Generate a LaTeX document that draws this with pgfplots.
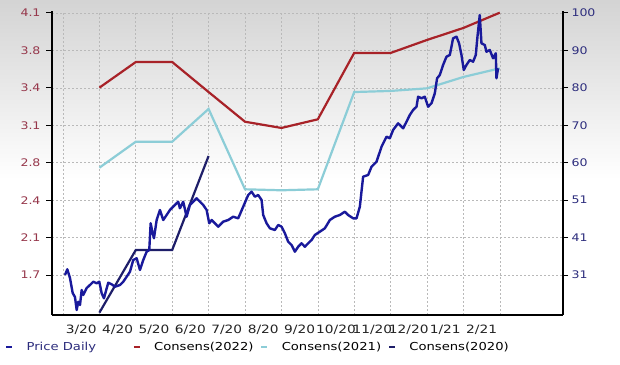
\documentclass[border=0pt]{standalone}
\usepackage{fontspec}
\setmainfont{DejaVu Sans}[FakeStretch=1.2]
\usepackage{pgfplots}
\pgfplotsset{compat=1.18}
\definecolor{redc}{RGB}{168,34,40}
\definecolor{cyanc}{RGB}{140,205,215}
\definecolor{pricec}{RGB}{25,25,155}
\definecolor{c20}{RGB}{30,30,105}
\definecolor{epslab}{RGB}{150,55,75}
\definecolor{pricelab}{RGB}{45,45,125}
\definecolor{xlab}{RGB}{35,35,35}
\definecolor{gridc}{RGB}{185,185,185}
\begin{document}
\begin{tikzpicture}
\fill[white] (-52bp,-50bp) rectangle (568bp,136bp);
\shade[top color=black!17, bottom color=white] (-52bp,135bp) rectangle (568bp,315bp);
\begin{axis}[
  at={(0,0)}, anchor=south west, scale only axis, width=511bp, height=304bp,
  xmin=-0.302, xmax=13.736, ymin=1.3336, ymax=4.1183,
  axis y line*=left, axis x line*=bottom,
  axis line style={-, line width=2.2bp, black},
  tick align=outside, major tick length=6bp,
  ytick={1.7,2.042857,2.385714,2.728571,3.071429,3.414286,3.757143,4.1},
  yticklabels={1.7,2.1,2.4,2.8,3.1,3.4,3.8,4.1},
  ytick style={black, line width=1bp},
  xtick={0.5,1.5,2.5,3.5,4.5,5.5,6.5,7.5,8.5,9.5,10.5,11.5},
  xticklabels={3/20,4/20,5/20,6/20,7/20,8/20,9/20,10/20,11/20,12/20,1/21,2/21},
  minor xtick={0,1,2,3,4,5,6,7,8,9,10,11,12},
  xtick style={draw=none},
  ymajorgrids, xminorgrids,
  major grid style={gridc, dash pattern=on 2bp off 2bp, line width=0.6bp},
  minor grid style={gridc, dash pattern=on 2bp off 2bp, line width=0.6bp},
  /pgf/number format/assume math mode=true,
  yticklabel style={color=epslab, font=\fontsize{10.5}{12}\selectfont, xshift=-2bp},
  xticklabel style={color=xlab, font=\fontsize{11.5}{13}\selectfont},
]
\addplot[redc, line width=2.2bp] coordinates {
(1,3.416) (2,3.651) (3,3.651) (4,3.376) (5,3.104) (6,3.047) (7,3.126)
(8,3.734) (9,3.734) (10,3.853) (11,3.963) (12,4.103)};
\addplot[cyanc, line width=2.2bp] coordinates {
(1,2.683) (2,2.921) (3,2.921) (4,3.221) (5,2.485) (6,2.476) (7,2.485)
(8,3.376) (9,3.386) (10,3.410) (11,3.514) (12,3.593)};
\addplot[c20, line width=2.2bp] coordinates {
(1,1.355) (2,1.929) (3,1.929) (4,2.790)};
\end{axis}
\begin{axis}[
  at={(0,0)}, anchor=south west, scale only axis, width=511bp, height=304bp,
  xmin=-0.302, xmax=13.736, ymin=20.466, ymax=100.527,
  axis y line*=right, axis x line=none,
  axis line style={-, line width=2.2bp, black},
  tick align=outside, major tick length=5bp, minor tick length=4bp,
  ytick={31,40.857,50.714,60.571,70.429,80.286,90.143,100},
  yticklabels={31,41,51,60,70,80,90,100},
  minor y tick num=3,
  ytick style={black, line width=1bp},
  /pgf/number format/assume math mode=true,
  yticklabel style={color=pricelab, font=\fontsize{10.5}{12}\selectfont},
  legend columns=4,
  legend image code/.code={\draw[#1, line width=2.6bp] (0bp,0bp) -- (6bp,0bp);},
  legend style={at={(axis description cs:-0.09198,-0.10526)}, anchor=west,
    draw=none, fill=none, inner sep=0pt, outer sep=0pt,
    font=\fontsize{11}{13}\selectfont,
    /tikz/every odd column/.append style={column sep=11bp},
    /tikz/every even column/.append style={column sep=3bp}},
]
\addplot[pricec, line width=2.4bp, line join=round] coordinates {
(0.055,31.00) (0.118,32.50) (0.192,30.21) (0.266,26.26) (0.329,25.21) (0.376,21.78)
(0.420,23.97) (0.467,23.10) (0.513,27.05) (0.557,25.73) (0.651,27.58) (0.741,28.37)
(0.832,29.24) (0.925,28.81) (0.997,29.24) (1.063,26.18) (1.126,24.86) (1.200,27.50)
(1.244,28.97) (1.337,28.55) (1.428,27.92) (1.565,28.37) (1.656,29.24) (1.749,30.55)
(1.840,31.87) (1.930,34.95) (2.024,35.40) (2.114,32.32) (2.205,34.95) (2.298,37.14)
(2.370,37.58) (2.408,44.62) (2.463,41.98) (2.499,40.67) (2.573,45.48) (2.663,48.12)
(2.754,45.48) (2.847,46.80) (2.938,48.12) (3.075,49.44) (3.166,50.30) (3.212,48.57)
(3.303,50.30) (3.396,46.35) (3.487,49.44) (3.578,50.30) (3.671,51.20) (3.762,50.30)
(3.852,49.44) (3.946,48.12) (4.017,44.62) (4.083,45.48) (4.173,44.62) (4.264,43.72)
(4.401,45.04) (4.539,45.48) (4.676,46.35) (4.813,45.93) (4.951,48.99) (5.088,52.07)
(5.181,52.94) (5.272,51.62) (5.362,52.07) (5.456,50.75) (5.500,46.80) (5.593,44.62)
(5.684,43.30) (5.821,42.85) (5.912,44.17) (6.005,43.72) (6.096,41.98) (6.186,39.77)
(6.279,38.90) (6.370,37.14) (6.461,38.45) (6.554,39.35) (6.645,38.45) (6.735,39.35)
(6.829,40.22) (6.919,41.53) (7.056,42.40) (7.194,43.30) (7.331,45.48) (7.468,46.35)
(7.605,46.80) (7.743,47.67) (7.833,46.80) (7.971,45.93) (8.064,45.93) (8.155,48.99)
(8.245,56.89) (8.383,57.34) (8.476,59.52) (8.613,60.84) (8.751,64.79) (8.888,67.42)
(8.978,67.00) (9.069,69.19) (9.206,70.95) (9.344,69.63) (9.437,71.37) (9.527,73.14)
(9.618,74.45) (9.712,75.32) (9.756,77.96) (9.849,77.54) (9.939,77.96) (10.030,75.32)
(10.123,76.22) (10.214,78.85) (10.277,82.80) (10.351,83.67) (10.442,86.31) (10.535,88.49)
(10.626,88.94) (10.717,93.34) (10.810,93.76) (10.881,92.02) (10.947,88.94) (11.010,84.99)
(11.084,86.31) (11.175,87.62) (11.266,87.18) (11.340,88.94) (11.386,93.76) (11.449,99.47)
(11.496,92.02) (11.587,91.57) (11.633,89.81) (11.724,90.26) (11.815,88.07) (11.889,89.39)
(11.908,82.80) (11.952,85.44)};
\addlegendentry{\textcolor{pricelab}{\makebox[101bp][l]{Price Daily}}}
\addlegendimage{redc}
\addlegendentry{\textcolor{RGB:red,155;green,45;blue,55}{\makebox[101bp][l]{Consens(2022)}}}
\addlegendimage{cyanc}
\addlegendentry{\textcolor{RGB:red,165;green,200;blue,210}{\makebox[101bp][l]{Consens(2021)}}}
\addlegendimage{c20}
\addlegendentry{\textcolor{RGB:red,40;green,40;blue,90}{\makebox[101bp][l]{Consens(2020)}}}
\end{axis}
\pgfresetboundingbox
\path[use as bounding box] (-52bp,-50bp) rectangle (568bp,315bp);
\end{tikzpicture}
\end{document}
